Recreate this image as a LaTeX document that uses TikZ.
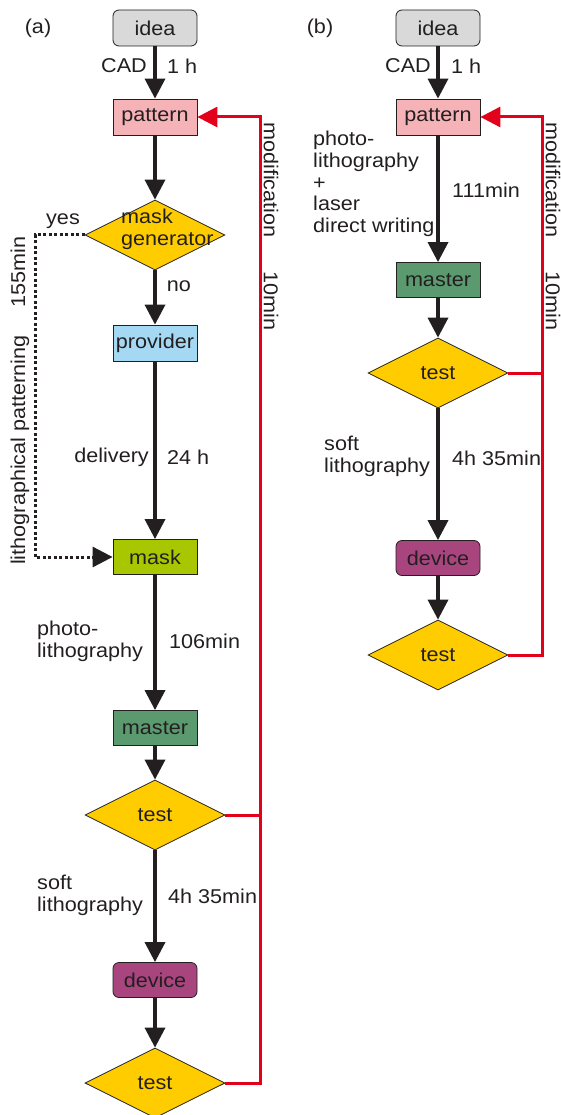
\documentclass[tikz,border=0pt]{standalone}
\usepackage{fontspec}
\setmainfont{Liberation Sans}[FakeStretch=1.08]
\usetikzlibrary{arrows.meta,shapes.geometric}
\definecolor{ink}{HTML}{231F20}
\definecolor{ideagray}{HTML}{D9D9D9}
\definecolor{patpink}{HTML}{F5B2B7}
\definecolor{testyellow}{HTML}{FFCC00}
\definecolor{provblue}{HTML}{A5D8F3}
\definecolor{maskgreen}{HTML}{A9C700}
\definecolor{mastergreen}{HTML}{5B9A6F}
\definecolor{devpurple}{HTML}{A8457F}
\definecolor{modred}{HTML}{E2001A}
\begin{document}
\begin{tikzpicture}[x=1pt,y=-1pt,
  every node/.style={font=\fontsize{20}{21.7}\selectfont, text=ink},
  box/.style={draw=ink, line width=0.8pt, minimum width=84pt, minimum height=36pt, inner sep=0pt},
  rbox/.style={box, rounded corners=6pt},
  dia/.style={diamond, aspect=2, draw=ink, line width=0.8pt, fill=testyellow, minimum width=140pt, minimum height=70pt, inner sep=0pt},
  flow/.style={draw=ink, line width=3.5pt, -{Triangle[length=20pt,width=20pt]}},
  mod/.style={draw=modred, line width=3pt, -{Triangle[length=20pt,width=20pt]}},
  modline/.style={draw=modred, line width=3pt},
  dotline/.style={draw=ink, line width=3pt, dash pattern=on 3pt off 2.5pt, -{Triangle[length=20pt,width=20pt]}},
  lbl/.style={inner sep=0pt}]
\useasboundingbox (0,0) rectangle (560,1115);
% ---------- panel (a)
\node[lbl] (la) at (38,28) {(a)};
\node[rbox, fill=ideagray] (ideaA) at (155,28) {idea};
\node[box, fill=patpink] (patA) at (155,117) {pattern};
\node[dia] (mgA) at (155,235) {};
\node[lbl, align=left, anchor=west] (mgtA) at (121,229) {mask\\generator};
\node[box, fill=provblue] (provA) at (155,343) {provider};
\node[box, fill=maskgreen, minimum height=35pt] (maskA) at (155,557) {mask};
\node[box, fill=mastergreen, minimum height=35pt] (masterA) at (155,728) {master};
\node[dia] (tA1) at (155,815) {test};
\node[rbox, fill=devpurple, minimum height=35pt] (devA) at (155,980) {device};
\node[dia] (tA2) at (155,1083) {test};

\draw[flow] (ideaA) -- (patA);
\draw[flow] (patA) -- (mgA);
\draw[flow] (mgA) -- (provA);
\draw[flow] (provA) -- (maskA);
\draw[flow] (maskA) -- (masterA);
\draw[flow] (masterA) -- (tA1);
\draw[flow] (tA1) -- (devA);
\draw[flow] (devA) -- (tA2);

\coordinate (dA) at (35,0);
\draw[dotline] (mgA.west) -| (dA |- maskA.west) -- (maskA.west);
\coordinate (rA) at (260,0);
\draw[mod] (tA2.east) -| (rA |- patA.east) -- (patA.east);
\draw[modline] (tA1.east) -- (rA |- tA1.east);

\node[lbl, anchor=east] (cadA) at (147,66) {CAD};
\node[lbl, anchor=west] (hA) at (167,66) {1 h};
\node[lbl] (yesA) at (63,221) {yes};
\node[lbl] (noA) at (179,286) {no};
\node[lbl, anchor=east] (delA) at (149,457) {delivery};
\node[lbl, anchor=west] (d24A) at (167,457) {24 h};
\node[lbl, anchor=west, align=left] (phA) at (37,641) {photo-\\lithography};
\node[lbl, anchor=west] (t106A) at (169,641) {106min};
\node[lbl, anchor=west, align=left] (softA) at (37,895) {soft\\lithography};
\node[lbl, anchor=west] (t435A) at (168,896) {4h 35min};
\node[lbl, anchor=west, rotate=90] (lithA) at (20,565) {lithographical patterning\hspace{28pt}155min};
\node[lbl, anchor=west, rotate=-90] (modA) at (271,122) {modification\hspace{34pt}10min};

% ---------- panel (b)
\node[lbl] (lb) at (320,28) {(b)};
\node[rbox, fill=ideagray] (ideaB) at (438,28) {idea};
\node[box, fill=patpink] (patB) at (438,117) {pattern};
\node[box, fill=mastergreen, minimum height=35pt] (masterB) at (438,280) {master};
\node[dia] (tB1) at (438,373) {test};
\node[rbox, fill=devpurple, minimum height=35pt] (devB) at (438,558) {device};
\node[dia] (tB2) at (438,655) {test};

\draw[flow] (ideaB) -- (patB);
\draw[flow] (patB) -- (masterB);
\draw[flow] (masterB) -- (tB1);
\draw[flow] (tB1) -- (devB);
\draw[flow] (devB) -- (tB2);

\coordinate (rB) at (542,0);
\draw[mod] (tB2.east) -| (rB |- patB.east) -- (patB.east);
\draw[modline] (tB1.east) -- (rB |- tB1.east);

\node[lbl, anchor=east] (cadB) at (431,66) {CAD};
\node[lbl, anchor=west] (hB) at (451,66) {1 h};
\node[lbl, anchor=west, align=left] (phB) at (313,184) {photo-\\lithography\\+\\laser\\direct writing};
\node[lbl, anchor=west] (t111B) at (452,190) {111min};
\node[lbl, anchor=west, align=left] (softB) at (324,456) {soft\\lithography};
\node[lbl, anchor=west] (t435B) at (452,458) {4h 35min};
\node[lbl, anchor=west, rotate=-90] (modB) at (553,122) {modification\hspace{34pt}10min};
\end{tikzpicture}
\end{document}
